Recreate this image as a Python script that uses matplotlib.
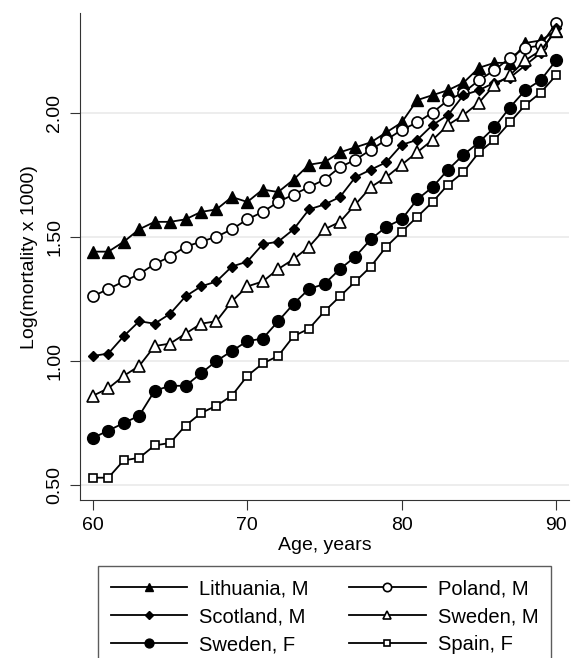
import matplotlib
matplotlib.use("Agg")
import matplotlib.pyplot as plt
from matplotlib.lines import Line2D

plt.rcParams['font.family'] = ['Liberation Sans', 'DejaVu Sans']

ages = list(range(60, 91))

lithuania_m = [1.44, 1.44, 1.48, 1.53, 1.56, 1.56, 1.57, 1.60, 1.61, 1.66, 1.64,
               1.69, 1.68, 1.73, 1.79, 1.80, 1.84, 1.86, 1.88, 1.92, 1.96,
               2.05, 2.07, 2.09, 2.12, 2.18, 2.20, 2.20, 2.28, 2.29, 2.33]
poland_m = [1.26, 1.29, 1.32, 1.35, 1.39, 1.42, 1.46, 1.48, 1.50, 1.53, 1.57,
            1.60, 1.64, 1.67, 1.70, 1.73, 1.78, 1.81, 1.85, 1.89, 1.93,
            1.96, 2.00, 2.05, 2.08, 2.13, 2.17, 2.22, 2.26, 2.27, 2.36]
scotland_m = [1.02, 1.03, 1.10, 1.16, 1.15, 1.19, 1.26, 1.30, 1.32, 1.38, 1.40,
              1.47, 1.48, 1.53, 1.61, 1.63, 1.66, 1.74, 1.77, 1.80, 1.87,
              1.89, 1.95, 1.99, 2.07, 2.09, 2.12, 2.14, 2.19, 2.24, 2.34]
sweden_m = [0.86, 0.89, 0.94, 0.98, 1.06, 1.07, 1.11, 1.15, 1.16, 1.24, 1.30,
            1.32, 1.37, 1.41, 1.46, 1.53, 1.56, 1.63, 1.70, 1.74, 1.79,
            1.84, 1.89, 1.95, 1.99, 2.04, 2.11, 2.15, 2.21, 2.25, 2.33]
sweden_f = [0.69, 0.72, 0.75, 0.78, 0.88, 0.90, 0.90, 0.95, 1.00, 1.04, 1.08,
            1.09, 1.16, 1.23, 1.29, 1.31, 1.37, 1.42, 1.49, 1.54, 1.57,
            1.65, 1.70, 1.77, 1.83, 1.88, 1.94, 2.02, 2.09, 2.13, 2.21]
spain_f = [0.53, 0.53, 0.60, 0.61, 0.66, 0.67, 0.74, 0.79, 0.82, 0.86, 0.94,
           0.99, 1.02, 1.10, 1.13, 1.20, 1.26, 1.32, 1.38, 1.46, 1.52,
           1.58, 1.64, 1.71, 1.76, 1.84, 1.89, 1.96, 2.03, 2.08, 2.15]

series_labels = ["Lithuania, M", "Poland, M", "Scotland, M",
                 "Sweden, M", "Sweden, F", "Spain, F"]
y_ticks = [0.5, 1.0, 1.5, 2.0]
x_ticks = [60, 70, 80, 90]

fig = plt.figure(figsize=(5.75, 6.58), dpi=100)
ax = fig.add_axes([0.139, 0.240, 0.851, 0.740])

styles = [
    dict(marker='^', markersize=8, markerfacecolor='black', markeredgecolor='black'),
    dict(marker='o', markersize=8, markerfacecolor='white', markeredgecolor='black', markeredgewidth=1.2),
    dict(marker='D', markersize=5.5, markerfacecolor='black', markeredgecolor='black'),
    dict(marker='^', markersize=8, markerfacecolor='white', markeredgecolor='black', markeredgewidth=1.2),
    dict(marker='o', markersize=8.5, markerfacecolor='black', markeredgecolor='black'),
    dict(marker='s', markersize=6, markerfacecolor='white', markeredgecolor='black', markeredgewidth=1.2),
]
data = [lithuania_m, poland_m, scotland_m, sweden_m, sweden_f, spain_f]

for vals, st, lab in zip(data, styles, series_labels):
    ax.plot(ages, vals, color='black', linewidth=1.3, label=lab, zorder=3, **st)

ax.set_xlim(59.16, 90.85)
ax.set_ylim(0.44, 2.40)
ax.set_yticks(y_ticks)
ax.set_yticklabels([f"{v:.2f}" for v in y_ticks], rotation=90, va='center')
ax.set_xticks(x_ticks)
ax.tick_params(labelsize=14, color='#333333', length=7, pad=5)
ax.grid(axis='y', color='#eaeaea', linewidth=1.2, zorder=0)
for s in ['top', 'right']:
    ax.spines[s].set_visible(False)
for s in ['left', 'bottom']:
    ax.spines[s].set_color('#333333')
ax.set_xlabel("Age, years", fontsize=14, labelpad=2)
ax.set_ylabel("Log(mortality x 1000)", fontsize=14, labelpad=6)

legend_h = []
for st in styles:
    st2 = dict(st)
    st2['markersize'] = st2['markersize'] * 0.75
    legend_h.append(Line2D([0], [0], color='black', linewidth=1.3, **st2))
order = [0, 2, 4, 1, 3, 5]
leg = fig.legend([legend_h[i] for i in order], [series_labels[i] for i in order],
                 ncol=2, loc='upper center',
                 bbox_to_anchor=((102 + 547) / 2 / 575, 1 - 566 / 658),
                 fontsize=14.5, frameon=True, fancybox=False, edgecolor='#333333',
                 handlelength=3.8, columnspacing=2.0, handletextpad=0.6,
                 borderpad=0.65, labelspacing=0.45, borderaxespad=0)
leg.get_frame().set_linewidth(1.0)

fig.savefig("out.png", dpi=100)
